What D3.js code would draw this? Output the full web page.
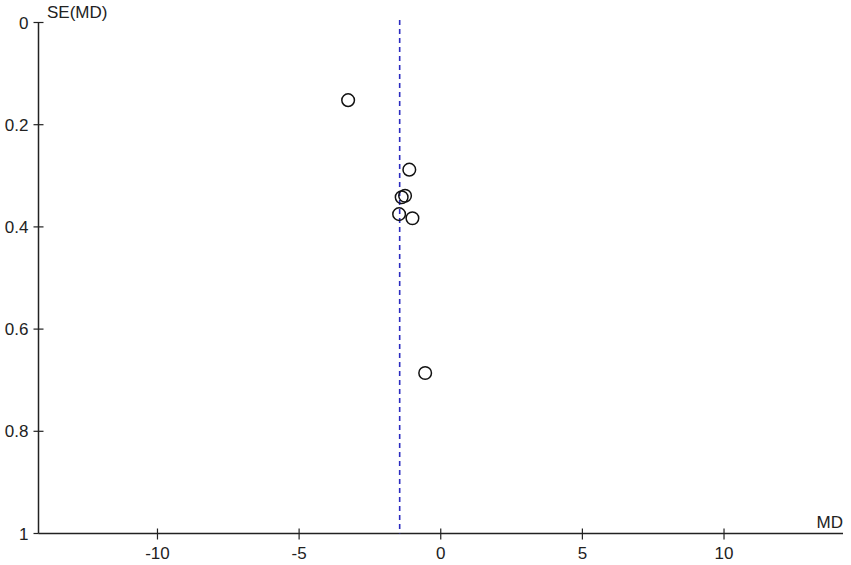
<!DOCTYPE html>
<html>
<head>
<meta charset="utf-8">
<script src="https://cdn.jsdelivr.net/npm/d3@7"></script>
<style>
  body { margin: 0; background: #fff; }
  text { font-family: Arial, "Liberation Sans", sans-serif; }
</style>
</head>
<body>
<div id="chart"></div>
<script>
// study effects (MD) and their standard errors
var md = [-3.27, -1.11, -1.26, -1.38, -1.47, -1.00, -0.55];
var se = [0.152, 0.288, 0.339, 0.342, 0.375, 0.383, 0.686];
var pooledMD = -1.45;
var xTicks = [-10, -5, 0, 5, 10];
var yTicks = [0, 0.2, 0.4, 0.6, 0.8, 1];

(function() {
    var width = 851, height = 565;
    var x0 = 38.5, x1 = 843, y0 = 22.5, y1 = 533.5;
    var fs = 17;

    var svg = d3.select("#chart")
        .append("svg")
        .attr("width", width)
        .attr("height", height);

    var x = d3.scaleLinear().domain([-14.2, 14.2]).range([x0, x1]);
    var y = d3.scaleLinear().domain([0, 1]).range([y0, y1]);

    // axis lines
    svg.append("line")
        .attr("x1", x0).attr("x2", x0)
        .attr("y1", y0).attr("y2", y1)
        .attr("stroke", "#222").attr("stroke-width", 1.5);
    svg.append("line")
        .attr("x1", x0).attr("x2", x1)
        .attr("y1", y1).attr("y2", y1)
        .attr("stroke", "#222").attr("stroke-width", 1.5);

    // y ticks (cross the axis)
    var yt = svg.selectAll(".yt").data(yTicks).enter().append("g");
    yt.append("line")
        .attr("x1", x0 - 5).attr("x2", function(d) { return d === 1 ? x0 : x0 + 5; })
        .attr("y1", function(d) { return y(d); })
        .attr("y2", function(d) { return y(d); })
        .attr("stroke", "#222").attr("stroke-width", 1.2);
    yt.append("text")
        .attr("x", x0 - 10)
        .attr("y", function(d) { return y(d); })
        .attr("dy", "0.36em")
        .attr("text-anchor", "end")
        .attr("font-size", fs)
        .attr("fill", "#222")
        .text(function(d) { return d; });

    // x ticks
    var xt = svg.selectAll(".xt").data(xTicks).enter().append("g");
    xt.append("line")
        .attr("x1", function(d) { return x(d); })
        .attr("x2", function(d) { return x(d); })
        .attr("y1", y1 - 5).attr("y2", y1 + 6)
        .attr("stroke", "#222").attr("stroke-width", 1.2);
    xt.append("text")
        .attr("x", function(d) { return x(d); })
        .attr("y", y1 + 25)
        .attr("text-anchor", "middle")
        .attr("font-size", fs)
        .attr("fill", "#222")
        .text(function(d) { return d; });

    // axis titles
    svg.append("text")
        .attr("x", 47).attr("y", 18)
        .attr("font-size", fs).attr("fill", "#222")
        .text("SE(MD)");
    svg.append("text")
        .attr("x", x1).attr("y", y1 - 6)
        .attr("text-anchor", "end")
        .attr("font-size", fs).attr("fill", "#222")
        .text("MD");

    // pooled estimate line
    svg.append("line")
        .attr("x1", x(pooledMD)).attr("x2", x(pooledMD))
        .attr("y1", 20).attr("y2", y1)
        .attr("stroke", "#2b2bbf")
        .attr("stroke-width", 1.6)
        .attr("stroke-dasharray", "5,4");

    // studies
    svg.selectAll(".study")
        .data(md)
        .enter()
        .append("circle")
        .attr("class", "study")
        .attr("cx", function(d) { return x(d); })
        .attr("cy", function(d, i) { return y(se[i]); })
        .attr("r", 6.3)
        .attr("fill", "none")
        .attr("stroke", "#111")
        .attr("stroke-width", 1.5);
})();
</script>
</body>
</html>
